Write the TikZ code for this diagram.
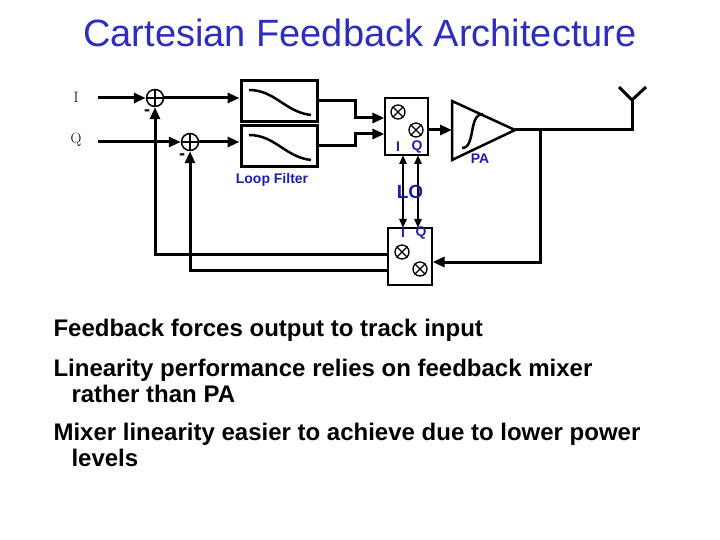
\documentclass[tikz,border=0pt]{standalone}
\usepackage{fontspec}
\setmainfont{Liberation Sans}
\usetikzlibrary{arrows.meta}
\definecolor{tblue}{RGB}{45,45,190}
\definecolor{lblue}{RGB}{30,30,170}
\begin{document}
\begin{tikzpicture}[x=1pt,y=-1pt,
  wire/.style={line width=3pt},
  arr/.style={wire,-{Triangle[length=12pt,width=10pt]}},
  box/.style={draw,line width=3pt,inner sep=0,minimum width=76pt,minimum height=41pt},
  mbox/.style={draw,line width=1.2pt,inner sep=0},
  sumc/.style={circle,draw,line width=1.5pt,minimum size=17pt,inner sep=0},
  mx/.style={circle,draw,line width=1.3pt,minimum size=14pt,inner sep=0},
  lbl/.style={font=\bfseries\fontsize{14}{16}\selectfont,text=lblue},
  body/.style={font=\bfseries\fontsize{24}{28}\selectfont,anchor=west}]
\useasboundingbox (0,0) rectangle (720,540);
\node[font=\fontsize{38}{42}\selectfont,text=tblue] (title) at (360,33) {Cartesian Feedback Architecture};
% inputs
\node[font=\fontfamily{lmr}\selectfont\fontsize{15}{17}\selectfont] (il) at (76,97) {I};
\node[font=\fontfamily{lmr}\selectfont\fontsize{15}{17}\selectfont] (ql) at (76,140) {Q};
\node[sumc] (s1) at (155,98) {};
\draw[line width=1.5pt] (s1.north)--(s1.south) (s1.west)--(s1.east);
\node[sumc] (s2) at (190,142) {};
\draw[line width=1.5pt] (s2.north)--(s2.south) (s2.west)--(s2.east);
\node[font=\bfseries\fontsize{18}{18}\selectfont] (m1) at (147,113) {-};
\node[font=\bfseries\fontsize{18}{18}\selectfont] (m2) at (182,157) {-};
\coordinate (ia) at (98,98);
\coordinate (qa) at (98,142);
\draw[arr] (ia) -- (s1.west);
\draw[arr] (qa) -- (s2.west);
% filters
\node[box] (f1) at (279,101) {};
\node[box] (f2) at (279,146) {};
\draw[line width=2.5pt] (249,90) .. controls (275,90) and (285,112) .. (311,115);
\draw[line width=2.5pt] (249,135) .. controls (275,135) and (285,157) .. (311,160);
\draw[arr] (s1.east) -- (f1.west |- s1);
\draw[arr] (s2.east) -- (f2.west |- s2);
\node[lbl] (lf) at (272,180) {Loop Filter};
% upper mixer
\node[mbox,minimum width=43pt,minimum height=57pt] (um) at (406.5,126.5) {};
\node[mx] (ux1) at (398,112) {}; \draw[line width=1.3pt] (ux1.north west)--(ux1.south east) (ux1.north east)--(ux1.south west);
\node[mx] (ux2) at (416,130) {}; \draw[line width=1.3pt] (ux2.north west)--(ux2.south east) (ux2.north east)--(ux2.south west);
\node[lbl] (ui) at (398,147) {I};
\node[lbl] (uq) at (417,147) {Q};
\draw[arr] (f1.east) -- (355,101) |- (um.west |- 0,118);
\draw[arr] (f2.east) -- (355,146) |- (um.west |- 0,134);
% PA
\coordinate (pa1) at (452,101);
\coordinate (pa2) at (452,160);
\coordinate (pat) at (515,130);
\draw[line width=2.5pt,line join=miter] (pa1) -- (pat) -- (pa2) -- cycle;
\draw[line width=2.5pt] (462,148) .. controls (476,148) and (468,114) .. (483,114);
\node[lbl] (pal) at (480,159) {PA};
\draw[arr] (um.east |- 0,130) -- (452,130);
% antenna
\coordinate (ant) at (632,100);
\draw[wire] (pat) -- (632,130) -- (ant);
\draw[wire] (619,87) -- (ant) -- (646,87);
% lower mixer
\node[mbox,minimum width=44pt,minimum height=57pt] (lm) at (410,256.5) {};
\node[mx] (lx1) at (402,252) {}; \draw[line width=1.3pt] (lx1.north west)--(lx1.south east) (lx1.north east)--(lx1.south west);
\node[mx] (lx2) at (420,269) {}; \draw[line width=1.3pt] (lx2.north west)--(lx2.south east) (lx2.north east)--(lx2.south west);
\node[lbl] (li) at (403,233) {I};
\node[lbl] (lq) at (421,233) {Q};
\draw[arr] (540,130) |- (lm.east |- 0,262);
% LO
\draw[line width=2.5pt,{Triangle[length=9pt,width=7pt]}-{Triangle[length=9pt,width=7pt]}] (403,155) -- (403,228);
\draw[line width=2.5pt,{Triangle[length=9pt,width=7pt]}-{Triangle[length=9pt,width=7pt]}] (418,155) -- (418,228);
\node[font=\bfseries\fontsize{19}{19}\selectfont,text=lblue] (lo) at (410,192) {LO};
% feedback
\draw[arr] (lm.west |- 0,254) -- (155,254) -- (s1.south);
\draw[arr] (lm.west |- 0,270) -- (190,270) -- (s2.south);
% text
\node[body] (b1) at (50,330) {Feedback forces output to track input};
\node[body] (b2) at (50,370) {Linearity performance relies on feedback mixer};
\node[body] (b3) at (68,394) {rather than PA};
\node[body] (b4) at (50,434) {Mixer linearity easier to achieve due to lower power};
\node[body] (b5) at (68,458) {levels};
\end{tikzpicture}
\end{document}
